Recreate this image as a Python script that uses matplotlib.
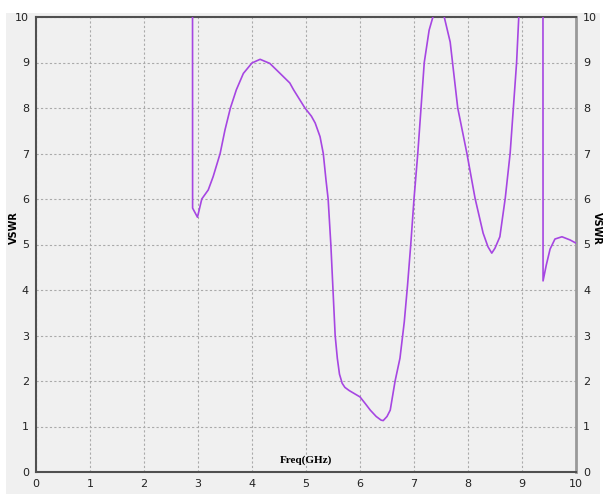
import numpy as np
import matplotlib.pyplot as plt
from matplotlib.patches import Rectangle

# VSWR curve (values above 10 are clipped by the axis)
freq = [2.89, 2.90, 2.99, 3.03, 3.07, 3.13, 3.19, 3.28, 3.41, 3.50, 3.60, 3.71, 3.84,
        4.00, 4.15, 4.33, 4.52, 4.70, 4.77, 4.98, 5.10, 5.17, 5.26, 5.32, 5.37, 5.41,
        5.46, 5.50, 5.54, 5.58, 5.62, 5.67, 5.72, 5.80, 5.90, 6.00, 6.10, 6.19, 6.30,
        6.39, 6.43, 6.50, 6.56, 6.65, 6.74, 6.82, 6.88, 6.94, 7.00, 7.07, 7.13, 7.19,
        7.28, 7.35, 7.45, 7.56, 7.67, 7.81, 7.98, 8.13, 8.28, 8.37, 8.44, 8.50, 8.59,
        8.69, 8.78, 8.84, 8.90, 8.94, 9.10, 9.38, 9.39, 9.45, 9.52, 9.61, 9.74, 9.89,
        10.0]
vswr = [40.0, 5.80, 5.60, 5.80, 6.00, 6.10, 6.20, 6.49, 7.00, 7.52, 8.00, 8.40, 8.76,
        8.99, 9.07, 8.98, 8.76, 8.55, 8.40, 8.00, 7.82, 7.67, 7.37, 7.00, 6.42, 6.00,
        5.00, 4.00, 3.00, 2.50, 2.15, 1.95, 1.86, 1.79, 1.72, 1.65, 1.50, 1.36, 1.22,
        1.14, 1.13, 1.22, 1.36, 2.00, 2.50, 3.30, 4.10, 5.00, 6.00, 7.00, 8.00, 9.00,
        9.71, 10.0, 10.3, 10.0, 9.45, 8.00, 7.00, 6.02, 5.25, 4.95, 4.81, 4.92, 5.17,
        6.02, 7.00, 8.00, 9.00, 10.0, 40.0, 40.0, 4.20, 4.55, 4.90, 5.12, 5.17, 5.10,
        5.03]

xticks = list(range(0, 11))
yticks = list(range(0, 11))

plt.rcParams['font.family'] = ['Liberation Sans Narrow', 'DejaVu Sans']

fig = plt.figure(figsize=(6.05, 4.99), dpi=100, facecolor='white')
# grey window background
fig.patches.append(Rectangle((6/605, 1 - 494/499), 594/605, 481/499,
                             transform=fig.transFigure, facecolor='#f0f0f0',
                             edgecolor='none', zorder=-10))

ax = fig.add_axes([36/605, 1 - 472/499, 540/605, 455/499])
ax.set_zorder(5)
ax.set_facecolor('#f0f0f0')
ax.plot(freq, vswr, color='#a646e2', lw=1.2, zorder=3, solid_joinstyle='round')

ax.set_xlim(0, 10)
ax.set_ylim(0, 10)
ax.set_xticks(xticks)
ax.set_yticks(yticks)
ax.grid(True, color='#aaaaaa', linestyle=(0, (2, 2)), lw=0.8)
ax.tick_params(length=0, labelsize=8, colors='#222222', pad=5)
ax.tick_params(axis='y', right=True, labelright=True, left=True, labelleft=True)

for s in ['left', 'top', 'bottom']:
    ax.spines[s].set_color('#505050')
    ax.spines[s].set_linewidth(1.5)
ax.spines['right'].set_color('#999999')
ax.spines['right'].set_linewidth(2)

fig.text(14/605, 1 - 228/499, 'VSWR', rotation=90, ha='center', va='center',
         fontsize=7, fontweight='bold', family=['DejaVu Sans'])
fig.text(597/605, 1 - 228/499, 'VSWR', rotation=270, ha='center', va='center',
         fontsize=7, fontweight='bold', family=['DejaVu Sans'])
ax.text(5.0, 0.15, 'Freq(GHz)', ha='center', va='bottom', fontsize=8,
        fontweight='bold', family=['Liberation Serif'])

fig.savefig('out.png', dpi=100, facecolor='white')
